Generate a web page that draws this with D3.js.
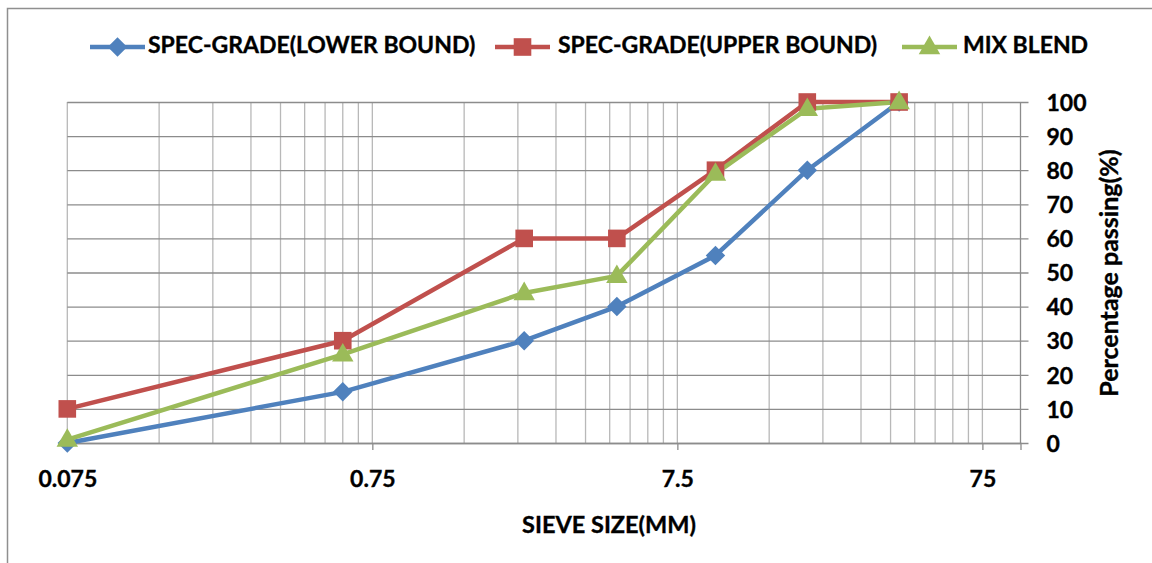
<!DOCTYPE html>
<html>
<head>
<meta charset="utf-8">
<script src="https://cdn.jsdelivr.net/npm/d3@7"></script>
<style>
  html, body { margin: 0; padding: 0; background: #fff; }
  svg { display: block; }
  text { font-family: Lato, "Open Sans", sans-serif; font-weight: bold; fill: #000; stroke: #000; stroke-width: 0.35px; }
</style>
</head>
<body>
<svg id="chart" width="1152" height="563"></svg>
<script>
// ---- data ----
const sieveSizes = [0.075, 0.6, 2.36, 4.75, 10, 20, 40];
const lowerBound = [0, 15, 30, 40, 55, 80, 100];
const upperBound = [10, 30, 60, 60, 80, 100, 100];
const mixBlend   = [1, 26, 44, 49, 79, 98, 100];
const seriesNames = ["SPEC-GRADE(LOWER BOUND)", "SPEC-GRADE(UPPER BOUND)", "MIX BLEND"];
const xTickValues = [0.075, 0.75, 7.5, 75];
const xTickLabels = ["0.075", "0.75", "7.5", "75"];
const yTickValues = [0, 10, 20, 30, 40, 50, 60, 70, 80, 90, 100];
const xTitle = "SIEVE SIZE(MM)";
const yTitle = "Percentage passing(%)";

// ---- layout ----
const svg = d3.select("#chart");
const plot = { left: 67.3, right: 1020.5, top: 102, bottom: 443 };
const x = d3.scaleLog().domain([0.075, 100]).range([plot.left, plot.right]);
const y = d3.scaleLinear().domain([0, 100]).range([plot.bottom, plot.top]);

const colors = ["#4F81BD", "#C0504D", "#9BBB59"];
const series = [lowerBound, upperBound, mixBlend];

// chart border
svg.append("rect").attr("x", 7.5).attr("y", 8.5).attr("width", 1160).attr("height", 570)
  .attr("fill", "none").attr("stroke", "#8f8f8f").attr("stroke-width", 1.5);

// vertical gridlines (log minor lines)
const vGrid = [];
xTickValues.forEach(d => { for (let k = 1; k <= 9; k++) { const v = d * k; if (v <= 100) vGrid.push(v); } });
svg.append("g").selectAll("line").data(vGrid).join("line")
  .attr("x1", d => x(d)).attr("x2", d => x(d))
  .attr("y1", plot.top).attr("y2", plot.bottom)
  .attr("stroke", "#b8b8b8").attr("stroke-width", 1.3);

// horizontal gridlines via right axis with extended ticks
const yAxis = d3.axisRight(y).tickValues(yTickValues).tickSize(-(plot.right - plot.left)).tickPadding(26);
const gy = svg.append("g").attr("transform", `translate(${plot.right},0)`).call(yAxis);
gy.select(".domain").remove();
gy.selectAll(".tick line").attr("stroke", "#8c8c8c").attr("stroke-width", 1.3).attr("x2", 8).attr("x1", -(plot.right - plot.left));
gy.selectAll(".tick text").attr("font-size", 23).attr("x", 26).attr("dy", "0.36em")
  .style("font-family", "Lato, sans-serif").style("font-weight", "bold");
// right axis line
svg.append("line").attr("x1", plot.right).attr("x2", plot.right).attr("y1", plot.top).attr("y2", plot.bottom)
  .attr("stroke", "#8c8c8c").attr("stroke-width", 1.3);

// bottom axis
const xAxis = d3.axisBottom(x).tickValues(xTickValues).tickFormat((d, i) => xTickLabels[i]).tickSize(7).tickPadding(21);
const gx = svg.append("g").attr("transform", `translate(0,${plot.bottom})`).call(xAxis);
gx.select(".domain").attr("stroke", "#8c8c8c").attr("stroke-width", 1.3);
gx.selectAll(".tick line").attr("stroke", "#8c8c8c").attr("stroke-width", 1.3);
gx.selectAll(".tick text").attr("font-size", 23)
  .style("font-family", "Lato, sans-serif").style("font-weight", "bold");

// lines
const line = d3.line().x(d => x(d[0])).y(d => y(d[1]));
series.forEach((s, i) => {
  const pts = sieveSizes.map((v, j) => [v, s[j]]);
  svg.append("path").datum(pts).attr("d", line)
    .attr("fill", "none").attr("stroke", colors[i]).attr("stroke-width", 4.5)
    .attr("stroke-linejoin", "round");
});

// markers
const diamond = d3.symbol().type(d3.symbolSquare).size(190);
const square = d3.symbol().type(d3.symbolSquare).size(310);
const tri = d3.symbol().type(d3.symbolTriangle).size(200);
function marker(g, i, cx, cy) {
  if (i === 0) g.append("path").attr("d", diamond()).attr("transform", `translate(${cx},${cy}) rotate(45)`).attr("fill", colors[0]);
  else if (i === 1) g.append("path").attr("d", square()).attr("transform", `translate(${cx},${cy})`).attr("fill", colors[1]);
  else g.append("path").attr("d", tri()).attr("transform", `translate(${cx},${cy + 1})`).attr("fill", colors[2]);
}
const gm = svg.append("g");
series.forEach((s, i) => {
  sieveSizes.forEach((v, j) => marker(gm, i, x(v), y(s[j])));
});

// axis titles
svg.append("text").attr("x", 609).attr("y", 527).attr("text-anchor", "middle").attr("dominant-baseline", "middle")
  .attr("font-size", 23.5).text(xTitle);
svg.append("text").attr("transform", "translate(1112,273) rotate(-90)").attr("text-anchor", "middle")
  .attr("dominant-baseline", "middle").attr("font-size", 25).text(yTitle);

// legend
const legendItems = [
  { lx: 90, tx: 148 },
  { lx: 495, tx: 558 },
  { lx: 902, tx: 963 }
];
const legY = 47;
legendItems.forEach((it, i) => {
  const g = svg.append("g");
  g.append("line").attr("x1", it.lx).attr("x2", it.lx + 55).attr("y1", legY).attr("y2", legY)
    .attr("stroke", colors[i]).attr("stroke-width", 4.5);
  marker(g, i, it.lx + 27.5, legY);
  g.append("text").attr("x", it.tx).attr("y", legY).attr("dominant-baseline", "middle")
    .attr("font-size", 23).text(seriesNames[i]);
});
</script>
</body>
</html>
